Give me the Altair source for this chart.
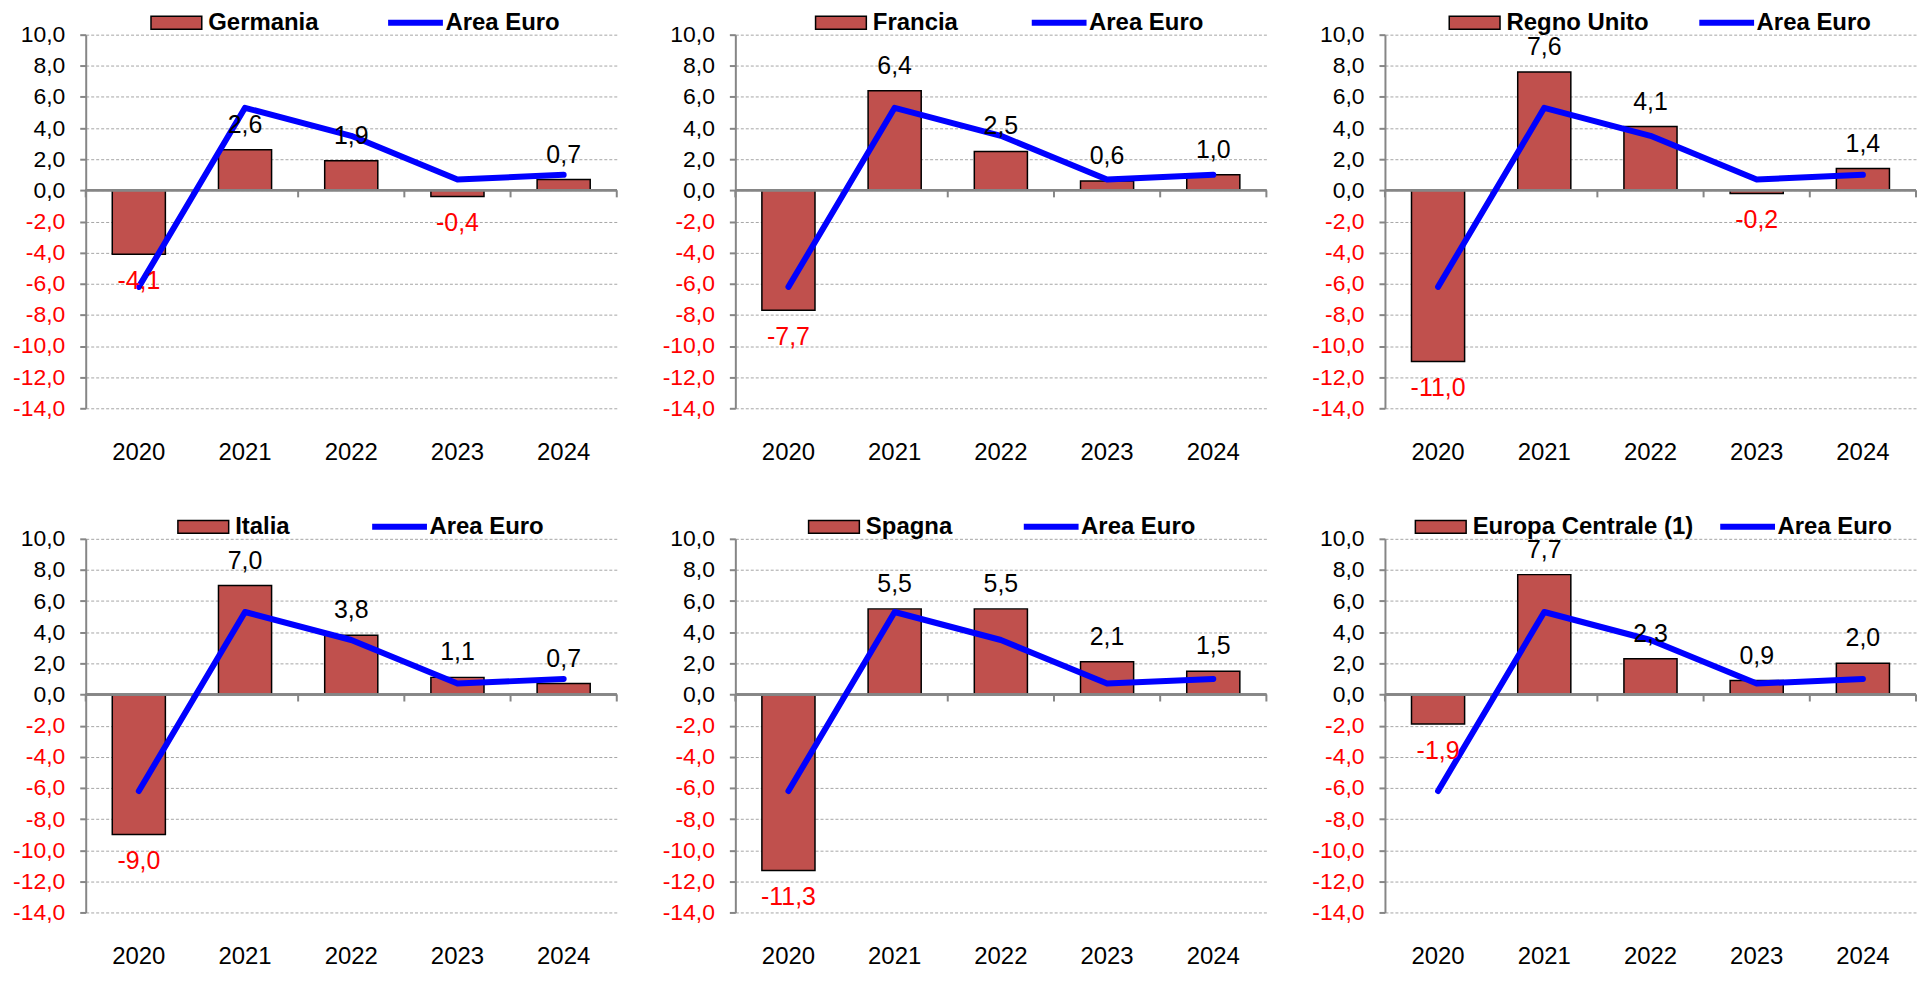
import altair as alt
import pandas as pd

# ---- data ----
years = ["2020", "2021", "2022", "2023", "2024"]
area_euro = [-6.2, 5.3, 3.5, 0.7, 1.0]

countries = ["Germania", "Francia", "Regno Unito", "Italia", "Spagna", "Europa Centrale (1)"]
germania = [-4.1, 2.6, 1.9, -0.4, 0.7]
francia = [-7.7, 6.4, 2.5, 0.6, 1.0]
regno_unito = [-11.0, 7.6, 4.1, -0.2, 1.4]
italia = [-9.0, 7.0, 3.8, 1.1, 0.7]
spagna = [-11.3, 5.5, 5.5, 2.1, 1.5]
europa_centrale = [-1.9, 7.7, 2.3, 0.9, 2.0]
series = [germania, francia, regno_unito, italia, spagna, europa_centrale]

y_ticks = list(range(-14, 12, 2))
y_domain = [-14, 10]
euro_label = "Area Euro"

# ---- style ----
FONT = "Liberation Sans"
W, H = 533, 375
BAR_COLOR = "#C0504D"
LINE_COLOR = "#0000FF"
AXIS_GREY = "#868686"
# legend x offsets (bar entry, line entry) relative to each plot's left edge
legend_x = [(79, 319), (94, 313), (78, 331), (106, 303), (87, 305), (44, 352)]
LEGEND_Y = -24
BAR_SYMBOL = "M-3.92,-1H3.92V1H-3.92Z"
LINE_SYMBOL = "M-4.23,0H4.23"


def fmt(field):
    return ("replace(replace(format(datum.%s, '.1f'), '.', ','), '\u2212', '-')" % field)


def panel(name, vals, lx):
    df = pd.DataFrame({
        "anno": years,
        "valore": vals,
        "euro": area_euro,
        "serie": [name] * len(years),
        "serie2": [euro_label] * len(years),
    })
    xscale = alt.Scale(paddingInner=0, paddingOuter=0)
    yscale = alt.Scale(domain=y_domain, nice=False, zero=False)
    x_axis = alt.Axis(title=None, labelAngle=0, domain=False, ticks=False, tickSize=0,
                      grid=False, labelPadding=32, labelFontSize=24, labelFont=FONT,
                      labelColor="black")
    y_axis = alt.Axis(title=None, values=y_ticks, labelExpr=fmt("value"),
                      labelFontSize=23, labelFont=FONT, labelPadding=15, labelOverlap=False,
                      labelColor={"condition": {"test": "datum.value < 0", "value": "#FF0000"},
                                  "value": "#000000"},
                      tickSize=6, tickWidth=2, tickColor=AXIS_GREY,
                      domainColor=AXIS_GREY, domainWidth=2,
                      grid=True, gridDash=[3, 2], gridColor="#A6A6A6", gridWidth=1,
                      minExtent=74, maxExtent=74)

    base = alt.Chart(df)
    x_plain = alt.X("anno:N", sort=years, scale=xscale, axis=x_axis)

    bars = base.mark_bar(width=alt.RelativeBandSize(0.5), stroke="black", strokeWidth=1.5).encode(
        x=x_plain,
        y=alt.Y("valore:Q", scale=yscale, axis=y_axis),
        fill=alt.Fill("serie:N", scale=alt.Scale(domain=[name], range=[BAR_COLOR]),
                      legend=alt.Legend(title=None, orient="none", legendX=lx[0], legendY=LEGEND_Y,
                                        symbolType=BAR_SYMBOL, symbolSize=169,
                                        symbolStrokeColor="black", symbolStrokeWidth=1.5,
                                        labelFont=FONT, labelFontSize=24, labelFontWeight="bold",
                                        labelColor="black", labelOffset=20, labelLimit=400)),
    )

    zero = base.mark_rule(color=AXIS_GREY, strokeWidth=2).encode(
        y=alt.YDatum(0, scale=yscale, axis=y_axis))

    ticks = base.mark_rule(color=AXIS_GREY, strokeWidth=2).encode(
        x=alt.X("anno:N", bandPosition=0, sort=years, scale=xscale, axis=x_axis),
        y=alt.YDatum(0, scale=yscale, axis=y_axis), y2=alt.Y2Datum(-0.45))
    ticks_end = base.transform_filter(alt.datum.anno == years[-1]).mark_rule(
        color=AXIS_GREY, strokeWidth=2).encode(
        x=alt.X("anno:N", bandPosition=1, sort=years, scale=xscale, axis=x_axis),
        y=alt.YDatum(0, scale=yscale, axis=y_axis), y2=alt.Y2Datum(-0.45))

    line = base.mark_line(strokeWidth=6, strokeCap="round", strokeJoin="round").encode(
        x=x_plain,
        y=alt.Y("euro:Q", scale=yscale, axis=y_axis),
        stroke=alt.Stroke("serie2:N", scale=alt.Scale(domain=[euro_label], range=[LINE_COLOR]),
                          legend=alt.Legend(title=None, orient="none", legendX=lx[1], legendY=LEGEND_Y,
                                            symbolType=LINE_SYMBOL, symbolSize=169, symbolStrokeWidth=6,
                                            symbolFillColor="transparent",
                                            labelFont=FONT, labelFontSize=24, labelFontWeight="bold",
                                            labelColor="black", labelOffset=18, labelLimit=400)),
    )

    pos_lab = base.transform_filter("datum.valore >= 0").transform_calculate(
        lab=fmt("valore")).mark_text(dy=-25, baseline="middle", fontSize=25, font=FONT,
                                     color="black").encode(
        x=x_plain, y=alt.Y("valore:Q", scale=yscale, axis=y_axis), text="lab:N")
    neg_lab = base.transform_filter("datum.valore < 0").transform_calculate(
        lab=fmt("valore")).mark_text(dy=27, baseline="middle", fontSize=25, font=FONT,
                                     color="#FF0000").encode(
        x=x_plain, y=alt.Y("valore:Q", scale=yscale, axis=y_axis), text="lab:N")

    return alt.layer(bars, zero, ticks, ticks_end, line, pos_lab, neg_lab).properties(width=W, height=H)


panels = [panel(n, s, lx) for n, s, lx in zip(countries, series, legend_x)]

row1 = alt.hconcat(*panels[:3], spacing=42).resolve_scale(fill="independent", stroke="independent")
row2 = alt.hconcat(*panels[3:], spacing=42).resolve_scale(fill="independent", stroke="independent")

chart = alt.vconcat(row1, row2, spacing=49).resolve_scale(
    fill="independent", stroke="independent"
).properties(
    padding={"left": 3, "top": 0, "right": 0, "bottom": 0}
).configure_view(stroke="transparent").configure_axis(labelOverlap=False)

chart.save("out.html", embed_options={"renderer": "svg", "actions": False})
